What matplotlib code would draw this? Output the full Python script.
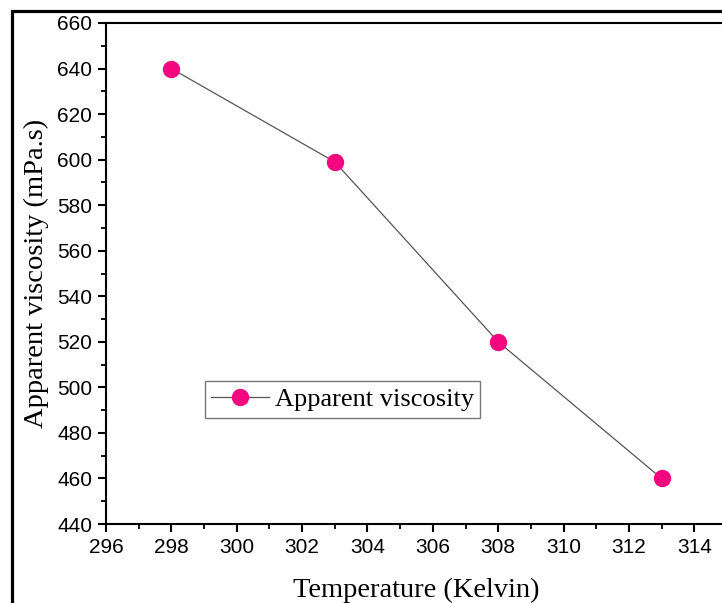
import matplotlib.pyplot as plt
from matplotlib.patches import Rectangle
from matplotlib.ticker import MultipleLocator

# Viscosity measurements
temperature = [298, 303, 308, 313]
viscosity = [640, 599, 520, 460]

W, H = 722, 603
fig = plt.figure(figsize=(W / 100, H / 100), dpi=100)

# axes box in pixels: left 106, top 23, bottom 524, right beyond the canvas
left, top, bottom, right = 106, 23, 524, 727
ax = fig.add_axes([left / W, 1 - bottom / H, (right - left) / W, (bottom - top) / H])

ax.plot(temperature, viscosity, color='#555555', lw=0.9,
        marker='o', markersize=11.5, markerfacecolor='#f5067f',
        markeredgecolor='#f5067f', label='Apparent viscosity')

ax.set_xlim(296, 315)
ax.set_ylim(440, 660)
ax.xaxis.set_major_locator(MultipleLocator(2))
ax.xaxis.set_minor_locator(MultipleLocator(1))
ax.yaxis.set_major_locator(MultipleLocator(20))
ax.yaxis.set_minor_locator(MultipleLocator(10))

for s in ax.spines.values():
    s.set_linewidth(1.5)
ax.tick_params(which='major', direction='out', length=6, width=1.5,
               labelsize=15, pad=4)
ax.tick_params(which='minor', direction='out', length=3.5, width=1.3)
for lab in ax.get_xticklabels() + ax.get_yticklabels():
    lab.set_family('Liberation Sans')

serif = {'family': 'Liberation Serif', 'size': 20.5}
ax.set_xlabel('Temperature (Kelvin)', fontdict=serif, labelpad=15)
ax.set_ylabel('Apparent viscosity (mPa.s)', fontdict=serif, labelpad=6)

leg = ax.legend(loc='upper left', bbox_to_anchor=(0.159, 0.285),
                borderaxespad=0, prop={'family': 'Liberation Serif', 'size': 19},
                handlelength=2.2, handletextpad=0.2, borderpad=0.25,
                fancybox=False, framealpha=1, edgecolor='#777777')
leg.get_frame().set_linewidth(1.0)

# outer frame around the figure
fig.add_artist(Rectangle((12 / W, -0.2), 2, 1 - 11 / H + 0.2,
                         transform=fig.transFigure, fill=False,
                         edgecolor='black', lw=2.3, clip_on=False))

fig.savefig('out.png', dpi=100)
